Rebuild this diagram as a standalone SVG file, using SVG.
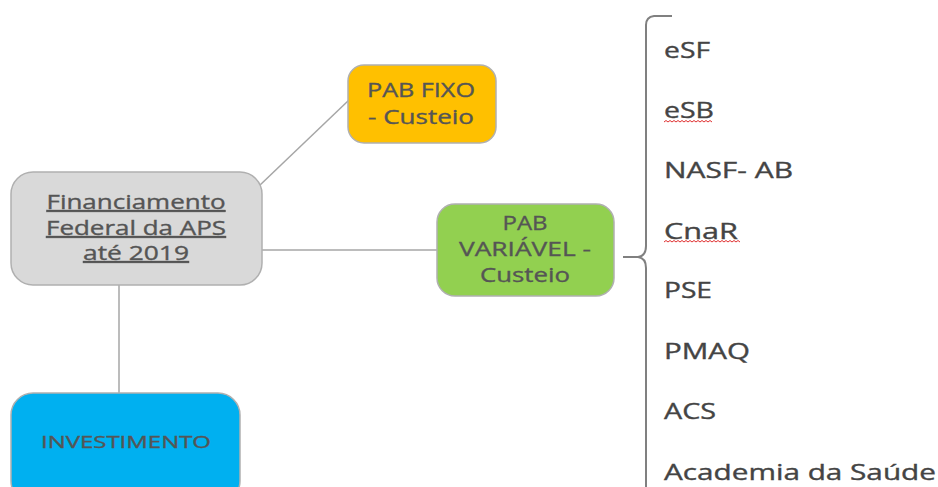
<svg xmlns="http://www.w3.org/2000/svg" width="938" height="487" viewBox="0 0 938 487">
<style>
.t{font-family:"Open Sans","Liberation Sans",sans-serif;fill:#555555;stroke:#555555;stroke-width:0.35;}
.n{font-size:19.5px;}
.it{font-size:21px;fill:#444444;stroke:#444444;}
.conn{stroke:#a6a6a6;stroke-width:1.5;fill:none;}
.box{stroke:#b0b0b0;stroke-width:1.5;}
.sq{stroke:#e03030;stroke-width:1;fill:none;}
</style>
<rect width="938" height="487" fill="#ffffff"/>
<g id="connectors">
<line class="conn" x1="259" y1="186" x2="349" y2="100"/>
<line class="conn" x1="262" y1="250" x2="437" y2="250"/>
<line class="conn" x1="119" y1="285" x2="119" y2="393"/>
</g>
<g id="financiamento">
<rect class="box" x="11" y="172" width="251" height="113" rx="22" fill="#d9d9d9"/>
<g class="t n" text-decoration="underline" text-anchor="middle">
<text x="136" y="209" textLength="179" lengthAdjust="spacingAndGlyphs">Financiamento</text>
<text x="136" y="235" textLength="180" lengthAdjust="spacingAndGlyphs">Federal da APS</text>
<text x="136" y="260" textLength="106" lengthAdjust="spacingAndGlyphs">até 2019</text>
</g>
</g>
<g id="pab-fixo">
<rect class="box" x="348" y="65" width="148" height="78" rx="16" fill="#ffc000"/>
<g class="t n" text-anchor="middle">
<text x="421" y="97" textLength="108" lengthAdjust="spacingAndGlyphs">PAB FIXO</text>
<text x="421" y="124" textLength="106" lengthAdjust="spacingAndGlyphs">- Custeio</text>
</g>
</g>
<g id="pab-variavel">
<rect class="box" x="437" y="204" width="177" height="92" rx="18" fill="#92d050"/>
<g class="t n" text-anchor="middle">
<text x="525" y="230" textLength="45" lengthAdjust="spacingAndGlyphs">PAB</text>
<text x="525" y="256" textLength="132" lengthAdjust="spacingAndGlyphs">VARIÁVEL -</text>
<text x="525" y="282" textLength="90" lengthAdjust="spacingAndGlyphs">Custeio</text>
</g>
</g>
<g id="investimento">
<rect class="box" x="11" y="393" width="229" height="110" rx="22" fill="#00b0f0"/>
<text class="t" font-size="17" x="126" y="448" text-anchor="middle" textLength="170" lengthAdjust="spacingAndGlyphs">INVESTIMENTO</text>
</g>
<g id="brace">
<path d="M672,16 L654,16 Q646,17 646,25 L646,246 Q646,256 638,257 L623,257 M638,257 Q646,258 646,268 L646,500" fill="none" stroke="#808080" stroke-width="2"/>
</g>
<g id="items" class="t it">
<text x="664" y="58" textLength="46" lengthAdjust="spacingAndGlyphs">eSF</text>
<text x="664" y="118" textLength="50" lengthAdjust="spacingAndGlyphs">eSB</text>
<text x="664" y="178" textLength="129" lengthAdjust="spacingAndGlyphs">NASF- AB</text>
<text x="664" y="239" textLength="74" lengthAdjust="spacingAndGlyphs">CnaR</text>
<text x="664" y="298" textLength="48" lengthAdjust="spacingAndGlyphs">PSE</text>
<text x="664" y="359" textLength="86" lengthAdjust="spacingAndGlyphs">PMAQ</text>
<text x="664" y="419" textLength="52" lengthAdjust="spacingAndGlyphs">ACS</text>
<text x="664" y="480" textLength="272" lengthAdjust="spacingAndGlyphs">Academia da Saúde</text>
</g>
<g id="spellcheck">
<path class="sq" d="M664,122 l2,-1.5 l2,1.5 l2,-1.5 l2,1.5 l2,-1.5 l2,1.5 l2,-1.5 l2,1.5 l2,-1.5 l2,1.5 l2,-1.5 l2,1.5 l2,-1.5 l2,1.5 l2,-1.5 l2,1.5 l2,-1.5 l2,1.5 l2,-1.5 l2,1.5 l2,-1.5 l2,1.5 l2,-1.5 l2,1.5"/>
<path class="sq" d="M664,242 l2,-1.5 l2,1.5 l2,-1.5 l2,1.5 l2,-1.5 l2,1.5 l2,-1.5 l2,1.5 l2,-1.5 l2,1.5 l2,-1.5 l2,1.5 l2,-1.5 l2,1.5 l2,-1.5 l2,1.5 l2,-1.5 l2,1.5 l2,-1.5 l2,1.5 l2,-1.5 l2,1.5 l2,-1.5 l2,1.5 l2,-1.5 l2,1.5 l2,-1.5 l2,1.5 l2,-1.5 l2,1.5 l2,-1.5 l2,1.5 l2,-1.5 l2,1.5 l2,-1.5 l2,1.5 l2,-1.5 l2,1.5"/>
</g>
</svg>
